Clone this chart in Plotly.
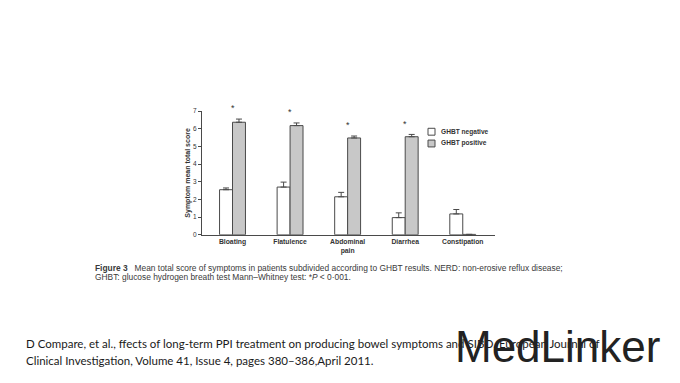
import plotly.graph_objects as go

# page body adds an 8px margin; figure is sized to fit the rest of the window
OFF = 8
W, H = 680 - OFF, 383 - OFF

categories = ["Bloating", "Flatulence", "Abdominal<br>pain", "Diarrhea", "Constipation"]
neg_values = [2.55, 2.70, 2.15, 0.97, 1.18]
neg_errors = [0.10, 0.28, 0.25, 0.27, 0.25]
pos_values = [6.37, 6.18, 5.48, 5.55, 0.02]
pos_errors = [0.18, 0.15, 0.11, 0.13, 0.0]
significant = [True, True, True, True, False]
y_ticks = [0, 1, 2, 3, 4, 5, 6, 7]
series_names = ["GHBT negative", "GHBT positive"]
series_colors = ["white", "#c8c8c8"]
edge = "#4a4a4a"

def px_x(p):
    return (p - OFF) / W

def px_y(p):
    return 1 - (p - OFF) / H

fig = go.Figure()

for name, vals, errs, col in zip(series_names, [neg_values, pos_values],
                                 [neg_errors, pos_errors], series_colors):
    fig.add_trace(go.Bar(
        x=categories, y=vals, name=name, showlegend=False,
        marker=dict(color=col, line=dict(color=edge, width=1)),
        error_y=dict(type="data", array=errs, arrayminus=[0] * len(errs),
                     symmetric=False, color=edge, thickness=1, width=3),
    ))

annotations = []
for c, v, e, s in zip(categories, pos_values, pos_errors, significant):
    if s:
        annotations.append(dict(x=c, y=v + e + 0.22, xref="x", yref="y", text="*",
                                showarrow=False, yanchor="bottom",
                                font=dict(size=9, color="#333", family="Liberation Sans")))

shapes = []
# manual legend (swatch + label)
for i, (name, col) in enumerate(zip(series_names, series_colors)):
    yc = 130 + 12 * i
    shapes.append(dict(type="rect", xref="paper", yref="paper",
                       x0=px_x(428), x1=px_x(435), y0=px_y(yc + 3.5), y1=px_y(yc - 3.5),
                       fillcolor=col, line=dict(color=edge, width=1)))
    annotations.append(dict(x=px_x(439), y=px_y(yc), xref="paper", yref="paper",
                            xanchor="left", yanchor="middle", showarrow=False, text=name,
                            font=dict(size=6.6, color="#333", family="Liberation Sans", weight="bold")))

cap_font = dict(size=8.4, color="#3a3a3a", family="Liberation Sans")
foot_font = dict(size=11.5, color="#1a1a1a", family="Lato")
annotations += [
    dict(x=px_x(93), y=px_y(268.5), xref="paper", yref="paper", xanchor="left", yanchor="middle",
         showarrow=False,
         text="<b>Figure 3</b>   Mean total score of symptoms in patients subdivided according to GHBT results. NERD: non-erosive reflux disease;",
         font=cap_font),
    dict(x=px_x(93), y=px_y(278.5), xref="paper", yref="paper", xanchor="left", yanchor="middle",
         showarrow=False,
         text="GHBT: glucose hydrogen breath test Mann–Whitney test: *<i>P</i> &lt; 0·001.",
         font=cap_font),
    dict(x=px_x(24), y=px_y(346), xref="paper", yref="paper", xanchor="left", yanchor="middle",
         showarrow=False,
         text="D Compare, et al., ffects of long-term PPI treatment on producing bowel symptoms and SIBO. European Journal of",
         font=foot_font),
    dict(x=px_x(24), y=px_y(363), xref="paper", yref="paper", xanchor="left", yanchor="middle",
         showarrow=False,
         text="Clinical Investigation, Volume 41, Issue 4, pages 380–386,April 2011.",
         font=foot_font),
    dict(x=px_x(453), y=px_y(349), xref="paper", yref="paper", xanchor="left", yanchor="middle",
         showarrow=False, text="MedLinker",
         font=dict(size=44, color="#222222", family="Liberation Sans")),
]

fig.update_layout(
    width=W, height=H, margin=dict(l=0, r=0, t=0, b=0),
    paper_bgcolor="white", plot_bgcolor="white",
    barmode="group", bargap=0.55, bargroupgap=0,
    showlegend=False,
    xaxis=dict(domain=[px_x(202), px_x(495)], range=[-0.53, 4.56],
               showline=True, linecolor=edge, linewidth=1, ticks="",
               tickfont=dict(size=6.8, color="#333", family="Liberation Sans", weight="bold"),
               showgrid=False, zeroline=False),
    yaxis=dict(domain=[px_y(235), px_y(109)], range=[0, 7], tickvals=y_ticks,
               showline=True, linecolor=edge, linewidth=1, ticks="outside",
               ticklen=3, tickcolor=edge,
               tickfont=dict(size=6.5, color="#333", family="Liberation Sans"),
               showgrid=False, zeroline=False,
               title=dict(text="Symptom mean total score", standoff=1,
                          font=dict(size=7, color="#333", family="Liberation Sans", weight="bold"))),
    annotations=annotations,
    shapes=shapes,
)

fig.write_html("out.html")
